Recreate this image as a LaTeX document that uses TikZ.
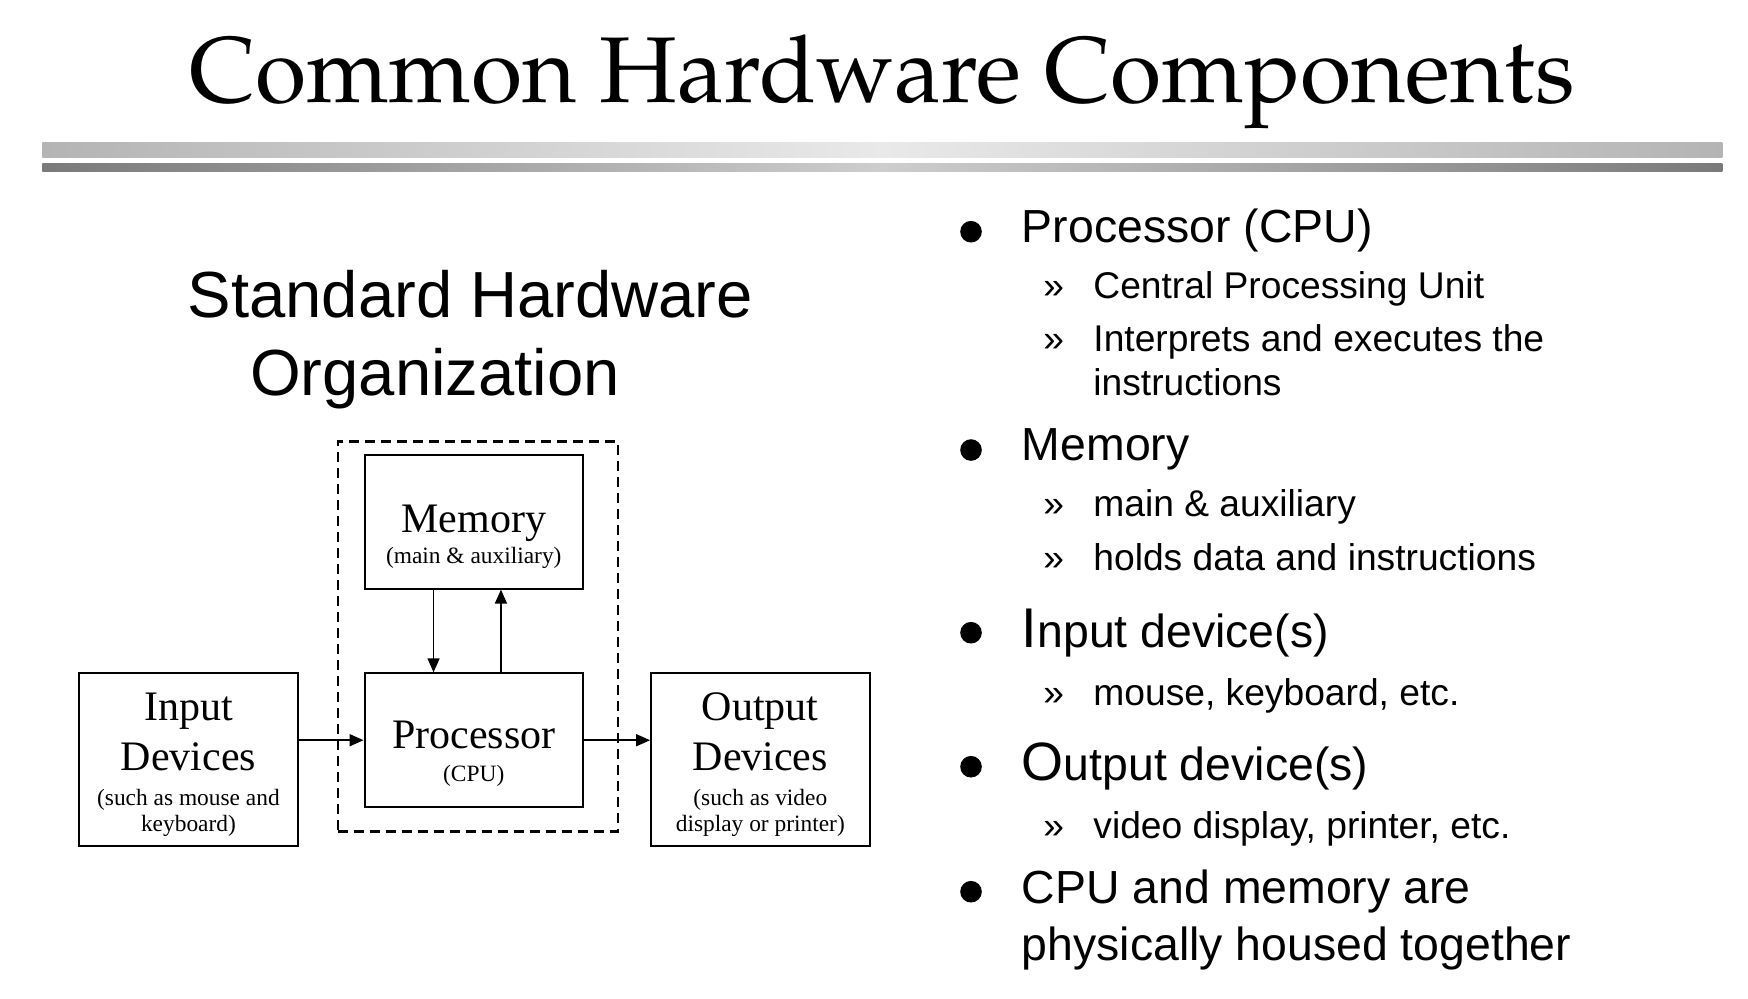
\documentclass[tikz,border=0pt]{standalone}
\usepackage[T1]{fontenc}
\usepackage{fontspec}
\newfontfamily\arl{Liberation Sans}
\newfontfamily\tms{Liberation Serif}
\usetikzlibrary{arrows.meta}
\definecolor{barA}{RGB}{180,180,180}
\definecolor{barAmid}{RGB}{233,233,233}
\definecolor{barB}{RGB}{122,122,122}
\definecolor{barBmid}{RGB}{205,205,205}
\newcommand{\palfont}{\fontencoding{T1}\fontfamily{ppl}\selectfont}
\begin{document}
\begin{tikzpicture}[x=0.5pt,y=-0.5pt,
  box/.style={draw, line width=1pt, inner sep=0, minimum width=109.2pt},
  bigt/.style={font=\tms\fontsize{21}{21}\selectfont, inner sep=0, anchor=base},
  smallt/.style={font=\tms\fontsize{11.7}{11.7}\selectfont, inner sep=0, anchor=base},
  arr/.style={line width=0.8pt, -{Triangle[length=7pt,width=6pt]}},
  mainb/.style={font=\arl\fontsize{23.2}{23.2}\selectfont, inner sep=0, anchor=base west},
  subb/.style={font=\arl\fontsize{18.6}{18.6}\selectfont, inner sep=0, anchor=base west},
  dotb/.style={circle, fill=black, inner sep=0, minimum size=10.8pt},
  headt/.style={font=\arl\fontsize{32.6}{32.6}\selectfont, inner sep=0, anchor=base west},
]
\useasboundingbox (0,0) rectangle (1748,998);
\fill[white] (0,0) rectangle (1748,998);

% title
\node[inner sep=0, anchor=base, font=\palfont\fontsize{46.7}{46.7}\selectfont] (title) at (882,102.6) {Common Hardware Components};

% bars
\shade[left color=barA, right color=barA, middle color=barAmid] (42.4,142.7) rectangle (1722.4,157.7);
\shade[left color=barB, right color=barB, middle color=barBmid] (42.4,163.7) rectangle (1722.4,171.7);

% heading
\node[headt] (sh1) at (187.3,317.7) {Standard Hardware};
\node[headt] (sh2) at (249.7,395.8) {Organization};

% diagram
\node[draw, line width=1.1pt, dash pattern=on 5pt off 3pt, inner sep=0, minimum width=139.9pt, minimum height=195pt] (grp) at (477.7,636.55) {};
\node[box, minimum height=66.9pt] (mem) at (473.75,521.7) {};
\node[box, minimum height=66.9pt] (proc) at (473.75,740.2) {};
\node[box, minimum height=86.4pt] (in) at (188.45,759.7) {};
\node[box, minimum height=86.4pt] (out) at (760.3,759.7) {};

\node[bigt] (memT) at (473.75,532) {Memory};
\node[smallt] (memS) at (473.75,563) {(main \& auxiliary)};
\node[bigt] (procT) at (473.75,748.5) {Processor};
\node[smallt] (procS) at (473.75,781) {(CPU)};
\node[bigt] (inT1) at (188.45,720) {Input};
\node[bigt] (inT2) at (188.45,770.5) {Devices};
\node[smallt] (inS1) at (188.45,805) {(such as mouse and};
\node[smallt] (inS2) at (188.45,831.5) {keyboard)};
\node[bigt] (outT1) at (760.3,720) {Output};
\node[bigt] (outT2) at (760.3,770.5) {Devices};
\node[smallt] (outS1) at (760.3,805) {(such as video};
\node[smallt] (outS2) at (760.3,831.5) {display or printer)};

\draw[arr] ([xshift=-20.1pt]mem.south) -- ([xshift=-20.1pt]proc.north);
\draw[arr] ([xshift=13.6pt]proc.north) -- ([xshift=13.6pt]mem.south);
\draw[arr] (in.east |- proc.west) -- (proc.west);
\draw[arr] (proc.east) -- (out.west |- proc.east);

% bullets
\node[dotb] (d1) at (971,231.7) {};
\node[dotb] (d2) at (971,450) {};
\node[dotb] (d3) at (971,632.7) {};
\node[dotb] (d4) at (971,766.7) {};
\node[dotb] (d5) at (971,891.7) {};

\node[mainb] (b1) at (1021.5,242.3) {Processor (CPU)};
\node[mainb] (b2) at (1021.5,460.7) {Memory};
\node[mainb] (b3) at (1021.5,647.3) {{\fontsize{28}{28}\selectfont I}nput device(s)};
\node[mainb] (b4) at (1021.5,780.7) {{\fontsize{27}{27}\selectfont O}utput device(s)};
\node[mainb] (b5) at (1021.5,903.3) {CPU and memory are};
\node[mainb] (b5b) at (1021.5,960) {physically housed together};

\foreach \yy/\nm in {298.3/a,351.7/b,516.7/c,570/d,705/e,838.3/f}
  \node[subb] (g\nm) at (1043,\yy) {»};
\node[subb] (s1) at (1093,298.3) {Central Processing Unit};
\node[subb] (s2) at (1093,351.7) {Interprets and executes the};
\node[subb] (s2b) at (1093,395) {instructions};
\node[subb] (s3) at (1093,516.7) {main \& auxiliary};
\node[subb] (s4) at (1093,570) {holds data and instructions};
\node[subb] (s5) at (1093,705) {mouse, keyboard, etc.};
\node[subb] (s6) at (1093,838.3) {video display, printer, etc.};
\end{tikzpicture}
\end{document}
